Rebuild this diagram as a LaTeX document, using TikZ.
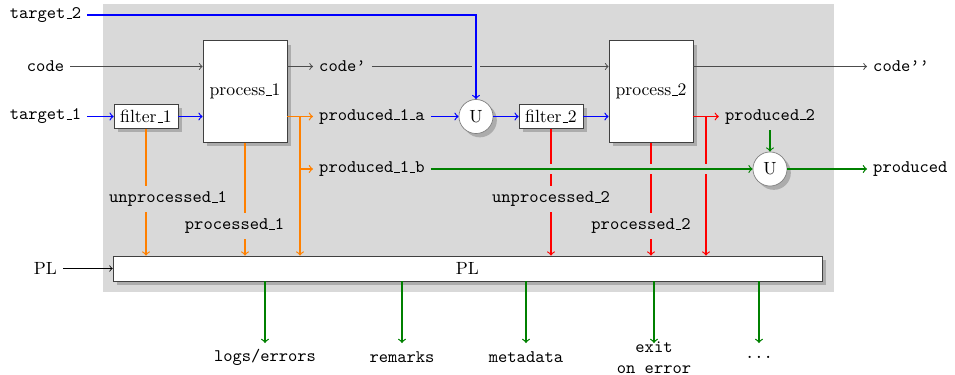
\documentclass[tikz,border=0pt]{standalone}
\usetikzlibrary{shadows}
\definecolor{bgc}{gray}{0.85}
\definecolor{grn}{rgb}{0,0.5,0}
\newcommand\us{\leavevmode\kern.06em\vbox{\hrule width.3em}}
\newcommand\qq{\textquoteright}
\begin{document}
\begin{tikzpicture}[x=0.5663pt,y=-0.5663pt,
  box/.style={draw=black!75, fill=white, drop shadow, inner sep=2pt},
  proc/.style={box, minimum width=47.6pt, minimum height=57.5pt},
  filt/.style={box, minimum width=36.2pt, minimum height=13.6pt},
  plbox/.style={box, minimum width=401.5pt, minimum height=14.2pt},
  uni/.style={circle, draw=black!50, fill=white, drop shadow, minimum size=19.3pt, inner sep=0pt},
  lbl/.style={font=\ttfamily},
  cut/.style={font=\ttfamily, fill=bgc},
  gapv/.style={draw=bgc, line width=4pt},
  gaph/.style={draw=bgc, line width=5.2pt, shorten >=1pt},
  garr/.style={->, black!70, line width=0.55pt},
  karr/.style={->, black, line width=0.45pt},
  barr/.style={->, blue, line width=0.7pt},
  oarr/.style={->, orange, line width=0.7pt},
  rarr/.style={->, red, line width=0.7pt},
  narr/.style={->, grn, line width=0.7pt}]
\useasboundingbox (0,0) rectangle (955,375);
\fill[bgc] (103,4) rectangle (834,292);

% left labels
\node[lbl] (t2) at (45.5,15) {target\us2};
\node[lbl] (code) at (45.5,66.5) {code};
\node[lbl] (t1) at (45.5,116.5) {target\us1};
\node (plin) at (45.5,268.5) {PL};

% boxes
\node[filt] (f1) at (146,116.5) {filter\us1};
\node[proc] (p1) at (245,91.5) {process\us1};
\node[uni] (u1) at (476,116.5) {U};
\node[filt] (f2) at (551,116.5) {filter\us2};
\node[proc] (p2) at (651,91.5) {process\us2};
\node[uni] (u2) at (770,169) {U};
\node[plbox] (pl) at (467.5,268.5) {PL};

% middle labels
\node[lbl, anchor=west] (cp) at (313,66.5) {code\qq};
\node[lbl, anchor=west] (pa) at (313,116.5) {produced\us1\us a};
\node[lbl, anchor=west] (pb) at (313,169) {produced\us1\us b};
\node[lbl] (p2l) at (770,116.5) {produced\us2};
\node[lbl, anchor=west] (cpp) at (867,66.5) {code\qq\qq};
\node[lbl, anchor=west] (prod) at (867,169) {produced};

% stage 1
\draw[garr] (code) -- (code -| p1.west);
\draw[barr] (t1) -- (f1);
\draw[barr] (f1) -- (f1 -| p1.west);
\draw[garr] (p1.east |- cp) -- (cp);
\draw[oarr] (p1.east |- pa) -- (pa);
\coordinate (ob) at (300,116.5);
\draw[oarr] (ob) |- (pb);
\draw[oarr] (ob) -- (ob |- pl.north);
\draw[oarr] (f1.south) -- (f1.south |- pl.north);
\draw[oarr] (p1.south) -- (p1.south |- pl.north);

% union 1
\draw[garr] (cp) -- (cp -| p2.west);
\draw[gapv] (u1.north |- t2) -- (u1.north);
\draw[barr] (t2) -| (u1);
\draw[barr] (pa) -- (u1);
\draw[barr] (u1) -- (f2);
\draw[barr] (f2) -- (f2 -| p2.west);

% stage 2
\draw[garr] (p2.east |- cpp) -- (cpp);
\draw[rarr] (p2.east |- p2l) -- (p2l);
\coordinate (rb) at (706,116.5);
\draw[rarr] (rb) -- (rb |- pl.north);
\draw[rarr] (f2.south) -- (f2.south |- pl.north);
\draw[rarr] (p2.south) -- (p2.south |- pl.north);

% union 2
\draw[gaph] (pb) -- (u2);
\draw[narr] (pb) -- (u2);
\draw[narr] (p2l) -- (u2);
\draw[narr] (u2) -- (prod);

\draw[karr] (plin) -- (pl);

% labels on lines
\node[cut] (up1) at (168,199) {unprocessed\us1};
\node[cut] (pr1) at (234.5,226) {processed\us1};
\node[cut] (up2) at (551,199) {unprocessed\us2};
\node[cut] (pr2) at (641,226) {processed\us2};

% outputs
\coordinate (o1) at (265,343);
\coordinate (o2) at (402,343);
\coordinate (o3) at (526,343);
\coordinate (o4) at (654,343);
\coordinate (o5) at (759,343);
\node[lbl] (l1) at (265,357) {logs/errors};
\node[lbl] (l2) at (402,357) {remarks};
\node[lbl] (l3) at (526,357) {metadata};
\node[lbl, align=center] (l4) at (654,357.5) {exit\\on error};
\node[lbl] (l5) at (759,357) {...};
\foreach \o in {o1,o2,o3,o4,o5}
  \draw[narr] (pl.south -| \o) -- (\o);
\end{tikzpicture}
\end{document}
